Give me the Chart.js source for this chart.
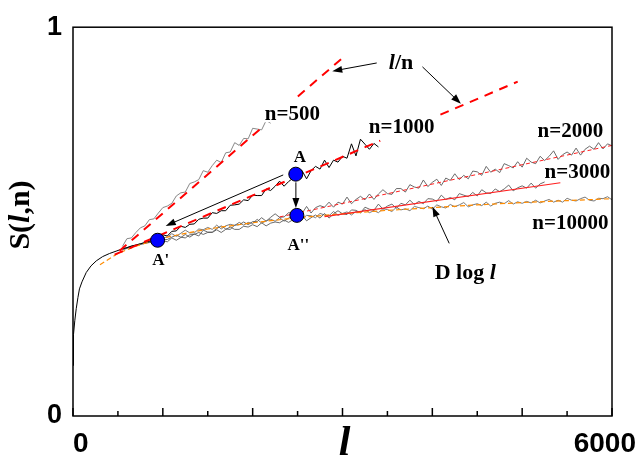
<!DOCTYPE html>
<html>
<head>
<meta charset="utf-8">
<script src="https://cdn.jsdelivr.net/npm/chart.js@4.4.1/dist/chart.umd.min.js"></script>
<style>
  html, body { margin: 0; padding: 0; background: #fff; }
  #wrap { width: 644px; height: 468px; }
</style>
</head>
<body>
<div id="wrap"><canvas id="chart" width="644" height="468"></canvas></div>
<script>
/* ── axes ── */
const X_TICKS = [0, 500, 1000, 1500, 2000, 2500, 3000, 3500, 4000, 4500, 5000, 5500, 6000];
const X_MAJOR = [0, 1000, 2000, 3000, 4000, 5000, 6000];
const X_LABELS = [0, 6000];

/* ── shared rise (all n) ── */
const COMMON_L = [0, 2, 5, 10, 20, 36, 55, 72, 100, 147, 200, 259, 330, 407, 480, 550];
const COMMON_S = [0.13, 0.16, 0.18, 0.21, 0.245, 0.276, 0.305, 0.327, 0.345, 0.369, 0.386, 0.399, 0.410, 0.418, 0.424, 0.430];

/* ── noisy S(l,n) curves, sampled every 50 from l = 550 ── */
const STEP = 50;
const L_START = 550;

const N500 = [
  0.436, 0.456, 0.458, 0.472, 0.484, 0.489, 0.505, 0.507, 0.522, 0.536,
  0.540, 0.547, 0.566, 0.574, 0.576, 0.598, 0.602, 0.608, 0.631, 0.627,
  0.644, 0.658, 0.652, 0.677, 0.679, 0.703, 0.696, 0.714, 0.713, 0.740,
  0.738, 0.736, 0.760, 0.753];

const N1000 = [
  0.430, 0.433, 0.437, 0.440, 0.443, 0.446, 0.449, 0.452,
  0.458, 0.466, 0.463, 0.475, 0.476, 0.488, 0.485, 0.493, 0.494, 0.506,
  0.509, 0.509, 0.523, 0.521, 0.528, 0.528, 0.542, 0.543, 0.545, 0.556,
  0.554, 0.568, 0.567, 0.567, 0.584, 0.580, 0.591, 0.604, 0.591, 0.603,
  0.612, 0.608, 0.631, 0.610, 0.631, 0.642, 0.635, 0.658, 0.639, 0.658,
  0.653, 0.668, 0.663, 0.700, 0.669, 0.712, 0.699, 0.686, 0.701, 0.692];

const N2000 = [
  0.430, 0.433, 0.437, 0.438, 0.442, 0.445, 0.446, 0.450, 0.452,
  0.451, 0.448, 0.458, 0.452, 0.459, 0.467, 0.460, 0.468, 0.463, 0.478,
  0.473, 0.473, 0.482, 0.489, 0.481, 0.480, 0.491, 0.492, 0.499, 0.492,
  0.500, 0.500, 0.510, 0.501, 0.511, 0.520, 0.511, 0.512, 0.523, 0.521,
  0.529, 0.521, 0.539, 0.522, 0.536, 0.541, 0.537, 0.550, 0.537, 0.550,
  0.545, 0.563, 0.546, 0.557, 0.565, 0.556, 0.571, 0.557, 0.571, 0.582,
  0.572, 0.570, 0.585, 0.585, 0.576, 0.595, 0.589, 0.586, 0.607, 0.590,
  0.601, 0.609, 0.593, 0.612, 0.606, 0.623, 0.608, 0.619, 0.610, 0.630,
  0.628, 0.619, 0.642, 0.627, 0.635, 0.626, 0.649, 0.644, 0.638, 0.654,
  0.640, 0.663, 0.653, 0.649, 0.668, 0.657, 0.668, 0.682, 0.660, 0.672,
  0.679, 0.671, 0.689, 0.671, 0.686, 0.694, 0.686, 0.703, 0.687, 0.700,
  0.695];

const N3000 = [
  0.429, 0.432, 0.436, 0.439, 0.441, 0.444, 0.447, 0.449, 0.452,
  0.454, 0.454, 0.460, 0.465, 0.460, 0.458, 0.466, 0.467, 0.472, 0.467,
  0.472, 0.472, 0.479, 0.472, 0.480, 0.486, 0.480, 0.480, 0.488, 0.486,
  0.492, 0.487, 0.497, 0.489, 0.496, 0.499, 0.497, 0.504, 0.498, 0.505,
  0.502, 0.516, 0.502, 0.510, 0.517, 0.509, 0.521, 0.509, 0.520, 0.528,
  0.520, 0.518, 0.530, 0.529, 0.522, 0.537, 0.532, 0.529, 0.545, 0.532,
  0.540, 0.545, 0.534, 0.547, 0.543, 0.555, 0.544, 0.552, 0.546, 0.559,
  0.558, 0.552, 0.568, 0.557, 0.562, 0.556, 0.572, 0.568, 0.564, 0.575,
  0.566, 0.582, 0.574, 0.572, 0.584, 0.577, 0.584, 0.594, 0.579, 0.587,
  0.592, 0.586, 0.599, 0.586, 0.597, 0.602];

const N10000 = [
  0.427, 0.431, 0.435, 0.439, 0.443, 0.446, 0.450, 0.453, 0.456,
  0.459, 0.460, 0.469, 0.462, 0.470, 0.478, 0.471, 0.471, 0.481, 0.479,
  0.485, 0.480, 0.491, 0.481, 0.489, 0.493, 0.490, 0.498, 0.491, 0.498,
  0.495, 0.506, 0.496, 0.502, 0.506, 0.501, 0.510, 0.501, 0.509, 0.515,
  0.509, 0.507, 0.516, 0.515, 0.510, 0.521, 0.517, 0.515, 0.526, 0.516,
  0.521, 0.525, 0.517, 0.526, 0.523, 0.531, 0.523, 0.528, 0.523, 0.533,
  0.531, 0.526, 0.537, 0.530, 0.533, 0.528, 0.539, 0.536, 0.533, 0.540,
  0.532, 0.543, 0.538, 0.535, 0.544, 0.538, 0.543, 0.549, 0.538, 0.543,
  0.546, 0.541, 0.550, 0.540, 0.547, 0.550, 0.546, 0.554, 0.545, 0.551,
  0.547, 0.552, 0.548, 0.555, 0.548, 0.553, 0.557, 0.550, 0.555, 0.550,
  0.560, 0.555, 0.553, 0.559, 0.563, 0.555, 0.553, 0.560, 0.559, 0.564,
  0.556];

/* ── fits (null = break in the line) ── */
const FIT500_L = [519, 2113, null, 2503, 2991];
const FIT500_S = [0.425, 0.744, null, 0.822, 0.919];
const FIT1000_L = [463, 3420, null, 4090, 4950];
const FIT1000_S = [0.415, 0.708, null, 0.775, 0.860];
const FIT2000_L = [2300, 6000]; const FIT2000_S = [0.512, 0.696];
const FIT3000_L = [2800, 5425]; const FIT3000_S = [0.513, 0.600];
const DLOG_L = [300, 500, 700, 1000, 1500, 2000, 2500, 3000, 3500, 4000, 4500, 5000, 5500, 6000];
const DLOG_S = [0.389, 0.418, 0.437, 0.458, 0.481, 0.497, 0.510, 0.520, 0.529, 0.536, 0.543, 0.549, 0.554, 0.559];

/* ── marked points A, A', A'' ── */
const PT_L = [2480, 942, 2492];
const PT_S = [0.622, 0.452, 0.516];

/* ── annotations (data units) ── */
const NOTES = [
  { parts: [['n=500']],   l: 2442, s: 0.774, size: 21, bg: true },
  { parts: [['n=1000']],  l: 3658, s: 0.742, size: 21, bg: true },
  { parts: [['n=2000']],  l: 5537, s: 0.731, size: 21 },
  { parts: [['n=3000']],  l: 5615, s: 0.627, size: 21 },
  { parts: [['n=10000']], l: 5537, s: 0.495, size: 21 },
  { parts: [['l', true], ['/n']], l: 3652, s: 0.908, size: 22 },
  { parts: [['D log '], ['l', true]], l: 4366, s: 0.368, size: 22 },
  { parts: [['A']],   l: 2526, s: 0.665, size: 17 },
  { parts: [["A'"]],  l: 976,  s: 0.399, size: 17 },
  { parts: [["A''"]], l: 2509, s: 0.437, size: 17 },
];
const ARROWS = [
  [2340, 0.620, 1032, 0.489],
  [2481, 0.601, 2481, 0.535],
  [3381, 0.908, 2886, 0.887],
  [3890, 0.898, 4318, 0.803],
  [4188, 0.444, 4001, 0.538],
];

/* ── helpers ── */
const pairs = (ls, ss) => ls.map((l, i) => ({ x: l, y: ss[i] }));
const sampled = vals => vals.map((s, i) => ({ x: L_START + i * STEP, y: s }));
const line = (data, color, width, dash) => ({
  data, showLine: true, borderColor: color, borderWidth: width,
  borderDash: dash || [], pointRadius: 0, fill: false, tension: 0, spanGaps: false,
});

const SERIF = '"Liberation Serif", "Times New Roman", serif';
const SANS = '"Liberation Sans", Arial, sans-serif';

function rich(ctx, parts, cx, cy, size, bg) {
  const fonts = parts.map(p => `${p[1] ? 'italic ' : ''}bold ${size}px ${SERIF}`);
  const ws = parts.map((p, i) => { ctx.font = fonts[i]; return ctx.measureText(p[0]).width; });
  const w = ws.reduce((a, b) => a + b, 0);
  let xx = cx - w / 2;
  ctx.textBaseline = 'middle';
  ctx.textAlign = 'left';
  if (bg) { ctx.fillStyle = '#fff'; ctx.fillRect(xx - 1, cy - size * 0.38, w + 2, size * 0.72); }
  ctx.fillStyle = '#000';
  parts.forEach((p, i) => { ctx.font = fonts[i]; ctx.fillText(p[0], xx, cy); xx += ws[i]; });
}

function arrow(ctx, x1, y1, x2, y2) {
  const a = Math.atan2(y2 - y1, x2 - x1), h = 10, w = 3.5;
  ctx.beginPath();
  ctx.moveTo(x1, y1);
  ctx.lineTo(x2 - h * 0.7 * Math.cos(a), y2 - h * 0.7 * Math.sin(a));
  ctx.stroke();
  ctx.beginPath();
  ctx.moveTo(x2, y2);
  ctx.lineTo(x2 - h * Math.cos(a) + w * Math.sin(a), y2 - h * Math.sin(a) - w * Math.cos(a));
  ctx.lineTo(x2 - h * Math.cos(a) - w * Math.sin(a), y2 - h * Math.sin(a) + w * Math.cos(a));
  ctx.closePath();
  ctx.fill();
}

/* ── frame, inward ticks, titles, notes ── */
const decor = {
  id: 'decor',
  afterDatasetsDraw(chart) {
    const { ctx, chartArea: a, scales: { x, y } } = chart;
    ctx.save();
    ctx.strokeStyle = '#000';
    ctx.fillStyle = '#000';

    // arrows
    ctx.lineWidth = 1;
    ARROWS.forEach(([l1, s1, l2, s2]) =>
      arrow(ctx, x.getPixelForValue(l1), y.getPixelForValue(s1), x.getPixelForValue(l2), y.getPixelForValue(s2)));

    // notes
    NOTES.forEach(n => rich(ctx, n.parts, x.getPixelForValue(n.l), y.getPixelForValue(n.s), n.size, n.bg));

    // frame
    ctx.lineWidth = 1.5;
    ctx.strokeRect(a.left, a.top, a.right - a.left, a.bottom - a.top);

    // inward ticks on the bottom axis
    X_TICKS.forEach(v => {
      const px = x.getPixelForValue(v);
      const len = X_MAJOR.includes(v) ? 8 : 5;
      ctx.beginPath();
      ctx.moveTo(px, a.bottom);
      ctx.lineTo(px, a.bottom - len);
      ctx.stroke();
    });

    // x tick labels
    ctx.font = `bold 28px ${SANS}`;
    ctx.textBaseline = 'middle';
    X_LABELS.forEach((v, i) => {
      ctx.textAlign = i === 0 ? 'left' : 'right';
      const px = x.getPixelForValue(v) + (i === 0 ? 0 : 24);
      ctx.fillText(String(v), px, a.bottom + 28);
    });

    // axis titles
    rich(ctx, [['l', true]], (a.left + a.right) / 2 + 2, a.bottom + 28, 42);
    ctx.save();
    ctx.translate(21, 215);
    ctx.rotate(-Math.PI / 2);
    rich(ctx, [['S('], ['l', true], [',n)']], 0, 0, 30);
    ctx.restore();

    ctx.restore();
  },
};

new Chart(document.getElementById('chart').getContext('2d'), {
  type: 'scatter',
  data: {
    datasets: [
      {
        data: pairs(PT_L, PT_S), pointRadius: 7, pointBackgroundColor: '#0000ff',
        pointBorderColor: '#000', pointBorderWidth: 1, showLine: false,
      },
      line(pairs(FIT500_L, FIT500_S), '#ff0000', 2, [9, 7]),
      line(pairs(FIT1000_L, FIT1000_S), '#ff0000', 2, [9, 7]),
      line(pairs(FIT2000_L, FIT2000_S), '#ff2020', 1, [4, 3]),
      line(pairs(FIT3000_L, FIT3000_S), '#ff2020', 1.2),
      line(pairs(DLOG_L, DLOG_S), '#ff8c00', 1.2, [5, 3]),
      line(sampled(N1000), '#000000', 1),
      line(pairs(COMMON_L, COMMON_S), '#000000', 1),
      line(sampled(N500), '#7a7a7a', 0.9),
      line(sampled(N2000), '#5a5a5a', 0.9),
      line(sampled(N3000), '#5a5a5a', 0.9),
      line(sampled(N10000), '#6a6a6a', 0.9),
    ],
  },
  options: {
    responsive: false,
    animation: false,
    layout: { padding: { left: 0, right: 32, top: 21, bottom: 0 } },
    plugins: { legend: { display: false }, tooltip: { enabled: false } },
    scales: {
      x: {
        type: 'linear', min: 0, max: 6000,
        grid: { display: false, drawTicks: false },
        border: { display: false },
        ticks: { display: false },
        afterFit: s => { s.height = 52; },
      },
      y: {
        type: 'linear', min: 0, max: 1,
        grid: { display: false, drawTicks: false },
        border: { display: false },
        ticks: {
          stepSize: 1, padding: 11, color: '#000',
          font: { family: SANS, size: 27, weight: 'bold' },
        },
        afterFit: s => { s.width = 73; },
      },
    },
  },
  plugins: [decor],
});
</script>
</body>
</html>
